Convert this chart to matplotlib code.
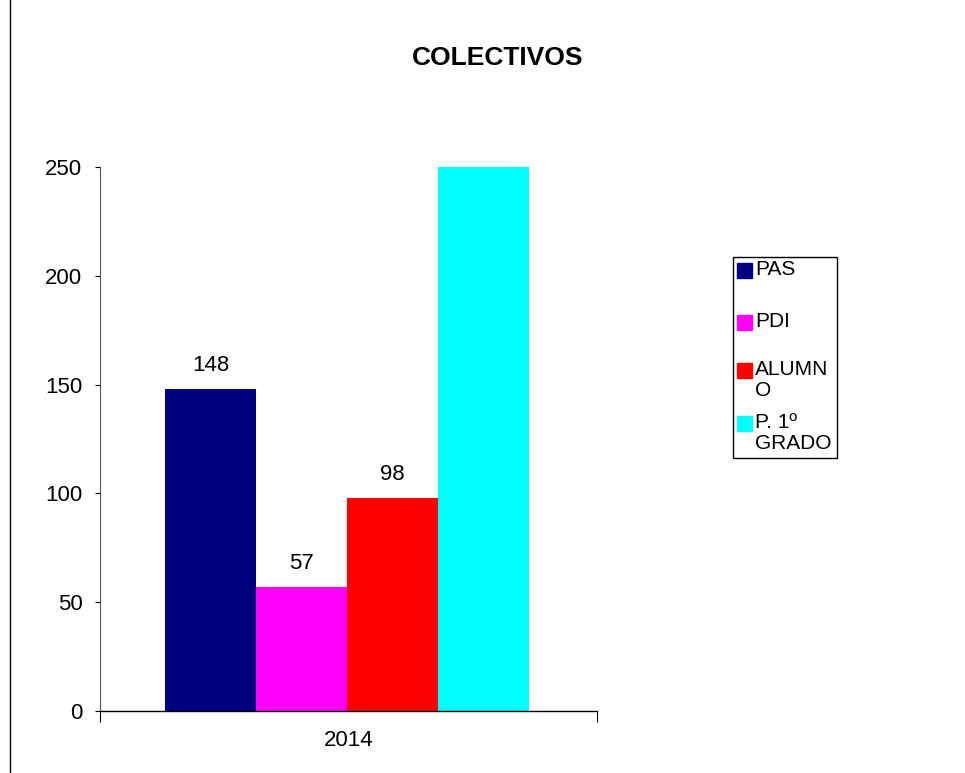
import numpy as np
import matplotlib.pyplot as plt
from matplotlib.patches import Rectangle
from matplotlib.lines import Line2D

plt.rcParams['font.family'] = ['Liberation Sans', 'DejaVu Sans']

# data
years = ['2014']
categories = ['PAS', 'PDI', 'ALUMNO', 'P. 1º GRADO']
legend_labels = ['PAS', 'PDI', 'ALUMN\nO', 'P. 1º\nGRADO']
values = [148, 57, 98, 300]   # last bar runs past the top of the axis
show_label = [True, True, True, False]
colors = ['#000080', '#FF00FF', '#FF0000', '#00FFFF']
yticks = [0, 50, 100, 150, 200, 250]

fig = plt.figure(figsize=(9.65, 7.73), dpi=100)
ax = fig.add_axes([100/965, 1 - 711/773, 497/965, 544/773])

bar_w = 0.183
start = -0.5 + 65/497
for i, (cat, v, c) in enumerate(zip(categories, values, colors)):
    x = start + bar_w/2 + i*bar_w
    ax.bar(x, v, width=bar_w, color=c, edgecolor='none', label=cat)
    if show_label[i]:
        ax.text(x, v + 6, str(v), ha='center', va='bottom', fontsize=16)

ax.set_xlim(-0.5, 0.5)
ax.set_ylim(0, 250)
ax.set_yticks(yticks)
ax.tick_params(axis='y', labelsize=16, length=3.6, width=0.8, pad=9)
ax.set_xticks([-0.5, 0.5])
ax.set_xticklabels(['', ''])
ax.tick_params(axis='x', length=8, width=0.8)
ax.set_xticks([0], minor=True)
ax.set_xticklabels(years, minor=True)
ax.tick_params(axis='x', which='minor', length=0, labelsize=16, pad=14)
for s in ['top', 'right']:
    ax.spines[s].set_visible(False)
ax.spines['left'].set_color('#555555')
ax.spines['bottom'].set_linewidth(1.0)

fig.text(498/965, 1 - 58/773, 'COLECTIVOS', ha='center', va='center',
         fontsize=19, fontweight='bold')

# legend box drawn by hand (labels wrap inside a narrow box)
fig.add_artist(Rectangle((733/965, 1 - 458/773), 104/965, 201/773,
                         transform=fig.transFigure, fill=False,
                         edgecolor='black', linewidth=1))
entry_y = [270, 322, 370, 423]
for lab, c, yy in zip(legend_labels, colors, entry_y):
    fig.add_artist(Rectangle((737/965, 1 - (yy + 8)/773), 15/965, 15/773,
                             transform=fig.transFigure, color=c))
    fig.text(755/965, 1 - (yy - 10)/773, lab, ha='left', va='top',
             fontsize=15, linespacing=1.15)

# left border line of the chart frame
fig.add_artist(Line2D([10/965, 10/965], [0, 1], transform=fig.transFigure,
                      color='black', linewidth=1))

fig.savefig('out.png', dpi=100)
